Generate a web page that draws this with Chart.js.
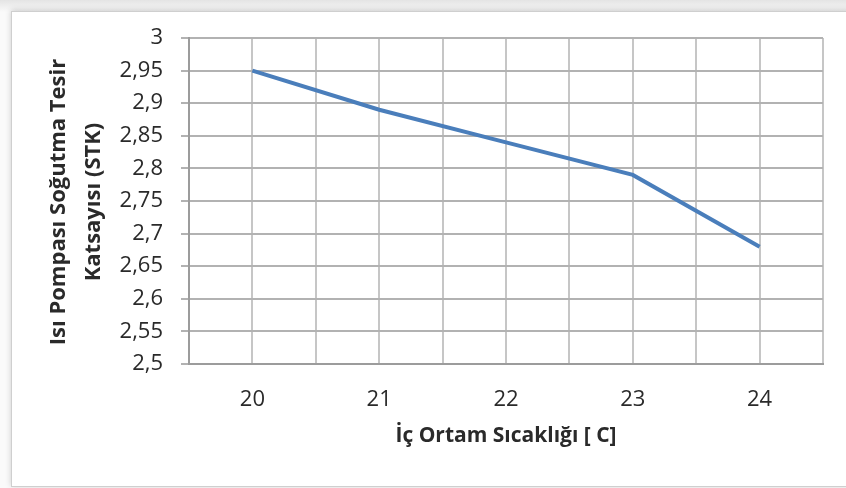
<!DOCTYPE html>
<html>
<head>
<meta charset="utf-8">
<script src="https://cdn.jsdelivr.net/npm/chart.js@4.4.0/dist/chart.umd.min.js"></script>
<style>
  html, body { margin: 0; padding: 0; background: #fff; overflow: hidden; }
  body { width: 846px; height: 488px; position: relative; background: linear-gradient(#e4e4e4, #fafafa 12px); }
  .frame {
    position: absolute; left: 11px; top: 11px; width: 850px; height: 474px;
    background: #fff; border: 1px solid #cfcfcf;
    box-shadow: 0 -1px 6px rgba(0,0,0,0.18);
  }
  #wrap { position: absolute; left: 0; top: 0; width: 846px; height: 488px; }
</style>
</head>
<body>
<div class="frame"></div>
<div id="wrap"><canvas id="stkChart" width="846" height="488"></canvas></div>
<script>
// data
const categories = [20, 21, 22, 23, 24];
const stkValues = [2.95, 2.89, 2.84, 2.79, 2.68];
const yTickLabels = ["2,5", "2,55", "2,6", "2,65", "2,7", "2,75", "2,8", "2,85", "2,9", "2,95", "3"];
const xTitle = "İç Ortam Sıcaklığı [ C]";
const yTitle = ["Isı Pompası Soğutma Tesir", "Katsayısı (STK)"];

const textColor = "#2a2a2a";
const fontFamily = "'Open Sans', 'Liberation Sans', sans-serif";

// two-line rotated y title, drawn by hand so the line spacing stays tight
const yTitlePlugin = {
  id: "yTitle",
  afterDraw(chart) {
    const { ctx, chartArea } = chart;
    const cy = (chartArea.top + chartArea.bottom) / 2 + 1;
    ctx.save();
    ctx.font = "bold 22px " + fontFamily;
    ctx.fillStyle = textColor;
    ctx.textAlign = "center";
    ctx.textBaseline = "middle";
    yTitle.forEach((line, i) => {
      ctx.save();
      ctx.translate(59 + i * 35, cy);
      ctx.rotate(-Math.PI / 2);
      ctx.fillText(line, 0, 0);
      ctx.restore();
    });
    ctx.restore();
  }
};

(function () {
  const ctx = document.getElementById("stkChart").getContext("2d");

  new Chart(ctx, {
    type: "line",
    data: {
      datasets: [
        {
          data: categories.map((c, i) => ({ x: c, y: stkValues[i] })),
          borderColor: "#4a7ebb",
          borderWidth: 4,
          pointRadius: 0,
          tension: 0,
          fill: false
        }
      ]
    },
    options: {
      responsive: false,
      animation: false,
      layout: { padding: { left: 30, right: 22, top: 38, bottom: 0 } },
      plugins: { legend: { display: false }, tooltip: { enabled: false } },
      scales: {
        x: {
          type: "linear",
          min: 19.5,
          max: 24.5,
          afterBuildTicks: (scale) => {
            const t = [];
            for (let i = 0; i <= 10; i++) t.push({ value: 19.5 + i * 0.5 });
            scale.ticks = t;
          },
          afterFit: (scale) => { scale.height = 124; },
          grid: { color: "#c6c6c6", lineWidth: 2, drawTicks: false },
          border: { color: "#9c9c9c", width: 2 },
          ticks: {
            padding: 23,
            autoSkip: false,
            maxRotation: 0,
            color: textColor,
            font: { family: fontFamily, size: 22 },
            callback: (v) => (categories.includes(v) ? String(v) : "")
          },
          title: {
            display: true,
            text: xTitle,
            color: textColor,
            font: { family: fontFamily, size: 21, weight: "bold" },
            padding: { top: 0, bottom: 39 }
          }
        },
        y: {
          min: 2.5,
          max: 3,
          afterBuildTicks: (scale) => {
            scale.ticks = yTickLabels.map((_, i) => ({ value: 2.5 + i * 0.05 }));
          },
          afterFit: (scale) => { scale.width = 159; },
          grid: { color: "#b2b2b2", lineWidth: 2, tickLength: 8 },
          border: { color: "#9c9c9c", width: 2 },
          ticks: {
            padding: 18,
            color: textColor,
            font: { family: fontFamily, size: 22 },
            callback: (v, i) => yTickLabels[i]
          },
          title: { display: false }
        }
      }
    },
    plugins: [yTitlePlugin]
  });
})();
</script>
</body>
</html>
